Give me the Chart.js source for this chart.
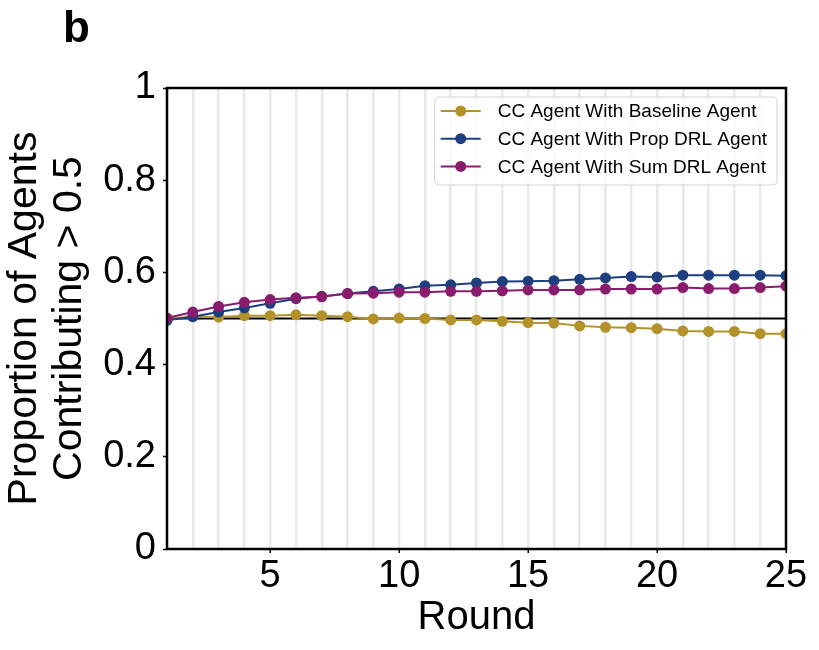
<!DOCTYPE html>
<html lang="en">
<head>
    <meta charset="UTF-8">
    <title>Proportion of Agents Contributing &gt; 0.5</title>
    <script src="https://cdn.jsdelivr.net/npm/chart.js"></script>
    <style>
        body { margin: 0; background: #fff; }
        .wrap { width: 819px; height: 650px; position: relative; }
    </style>
</head>
<body>
    <div class="wrap">
        <canvas id="chart"></canvas>
    </div>

    <script>
        // Data
        const rounds = [1, 2, 3, 4, 5, 6, 7, 8, 9, 10, 11, 12, 13, 14, 15, 16, 17, 18, 19, 20, 21, 22, 23, 24, 25];
        const baselineAgent = [0.500, 0.504, 0.503, 0.506, 0.506, 0.508, 0.506, 0.504, 0.499, 0.501, 0.500, 0.497, 0.497,
                               0.494, 0.491, 0.490, 0.484, 0.481, 0.480, 0.478, 0.473, 0.472, 0.472, 0.467, 0.467];
        const propDrlAgent = [0.496, 0.504, 0.514, 0.523, 0.533, 0.543, 0.548, 0.554, 0.559, 0.564, 0.571, 0.573, 0.577,
                              0.580, 0.581, 0.582, 0.585, 0.588, 0.591, 0.590, 0.594, 0.594, 0.594, 0.594, 0.593];
        const sumDrlAgent = [0.501, 0.514, 0.526, 0.535, 0.541, 0.545, 0.547, 0.554, 0.555, 0.557, 0.557, 0.559, 0.559,
                             0.560, 0.562, 0.562, 0.562, 0.564, 0.564, 0.564, 0.567, 0.565, 0.565, 0.567, 0.570];
        const seriesLabels = ['CC Agent With Baseline Agent', 'CC Agent With Prop DRL Agent', 'CC Agent With Sum DRL Agent'];
        const seriesColors = ['#B3922A', '#1D3F80', '#8A1C6E'];
        const referenceLevel = 0.5;
        const panelLetter = 'b';

        const FONT = '"Liberation Sans", Arial, sans-serif';

        function toPoints(values) {
            return values.map((v, i) => ({ x: rounds[i], y: v }));
        }

        const seriesValues = [baselineAgent, propDrlAgent, sumDrlAgent];
        const datasets = seriesValues.map((vals, i) => ({
            label: seriesLabels[i],
            data: toPoints(vals),
            borderColor: seriesColors[i],
            backgroundColor: seriesColors[i],
            borderWidth: 2,
            pointRadius: 5.5,
            pointHoverRadius: 5.5,
            pointBorderWidth: 0,
            order: 3 - i,
            clip: 0,
            inLegend: true
        }));
        // horizontal reference line at 0.5
        datasets.push({
            label: 'reference',
            data: [{ x: rounds[0], y: referenceLevel }, { x: rounds[rounds.length - 1], y: referenceLevel }],
            borderColor: '#000',
            borderWidth: 1.8,
            pointRadius: 0,
            order: 10,
            clip: 0,
            inLegend: false
        });

        // frame, panel letter and in-plot legend
        const extras = {
            id: 'extras',
            afterDatasetsDraw(chart) {
                const { ctx, chartArea: a } = chart;
                ctx.save();
                ctx.strokeStyle = '#000';
                ctx.lineWidth = 2.5;
                ctx.strokeRect(a.left, a.top, a.right - a.left, a.bottom - a.top);

                // legend box
                ctx.font = '19px ' + FONT;
                const items = chart.data.datasets.filter(d => d.inLegend);
                const textW = Math.max(...items.map(d => ctx.measureText(d.label).width));
                const boxR = a.right - 9, boxT = a.top + 9;
                const boxW = 63 + textW + 10, boxH = 88;
                const boxL = boxR - boxW;
                ctx.beginPath();
                ctx.roundRect(boxL, boxT, boxW, boxH, 4);
                ctx.fillStyle = 'rgba(255,255,255,0.8)';
                ctx.fill();
                ctx.strokeStyle = '#d4d4d4';
                ctx.lineWidth = 1;
                ctx.stroke();
                items.forEach((d, i) => {
                    const y = boxT + 14 + i * 27.7;
                    ctx.strokeStyle = d.borderColor;
                    ctx.lineWidth = 2;
                    ctx.beginPath();
                    ctx.moveTo(boxL + 6, y);
                    ctx.lineTo(boxL + 46, y);
                    ctx.stroke();
                    ctx.fillStyle = d.backgroundColor;
                    ctx.beginPath();
                    ctx.arc(boxL + 26, y, 5.5, 0, Math.PI * 2);
                    ctx.fill();
                    ctx.fillStyle = '#000';
                    ctx.textBaseline = 'middle';
                    ctx.textAlign = 'left';
                    ctx.fillText(d.label, boxL + 63, y + 1);
                });

                // panel letter
                ctx.font = 'bold 44px ' + FONT;
                ctx.fillStyle = '#000';
                ctx.textBaseline = 'alphabetic';
                ctx.fillText(panelLetter, 63, 42);
                ctx.restore();
            }
        };

        new Chart(document.getElementById('chart'), {
            type: 'line',
            data: { datasets: datasets },
            options: {
                responsive: true,
                maintainAspectRatio: false,
                animation: false,
                events: [],
                layout: { padding: { top: 88, right: 33, left: 0, bottom: 0 } },
                plugins: {
                    legend: { display: false },
                    tooltip: { enabled: false }
                },
                scales: {
                    x: {
                        type: 'linear',
                        min: 1,
                        max: 25,
                        afterFit(scale) { scale.height = 101; },
                        border: { display: false },
                        grid: {
                            color: c => (c.tick && c.tick.value > 1 && c.tick.value < 25) ? '#e9e9e9' : 'rgba(0,0,0,0)',
                            lineWidth: 2.5,
                            drawTicks: true,
                            tickLength: 4,
                            tickWidth: 1.5,
                            tickColor: c => (c.tick && c.tick.value % 5 === 0) ? '#000' : 'rgba(0,0,0,0)'
                        },
                        ticks: {
                            stepSize: 1,
                            autoSkip: false,
                            maxRotation: 0,
                            padding: 1,
                            color: '#000',
                            font: { family: FONT, size: 38 },
                            callback: v => (v % 5 === 0 ? String(v) : '')
                        },
                        title: {
                            display: true,
                            text: 'Round',
                            color: '#000',
                            font: { family: FONT, size: 40, lineHeight: 1.1 },
                            padding: { top: 0, bottom: 10 }
                        }
                    },
                    y: {
                        min: 0,
                        max: 1,
                        afterFit(scale) { scale.width = 167; },
                        border: { display: false },
                        grid: {
                            color: 'rgba(0,0,0,0)',
                            drawTicks: true,
                            tickLength: 4,
                            tickWidth: 1.5,
                            tickColor: '#000'
                        },
                        ticks: {
                            stepSize: 0.2,
                            padding: 7,
                            color: '#000',
                            font: { family: FONT, size: 38 },
                            callback: v => String(Number(v.toFixed(1)))
                        },
                        title: {
                            display: true,
                            text: ['Proportion of Agents', 'Contributing > 0.5'],
                            color: '#000',
                            font: { family: FONT, size: 41, lineHeight: 1.08 },
                            padding: { top: 3, bottom: 0 }
                        }
                    }
                }
            },
            plugins: [extras]
        });
    </script>
</body>
</html>
